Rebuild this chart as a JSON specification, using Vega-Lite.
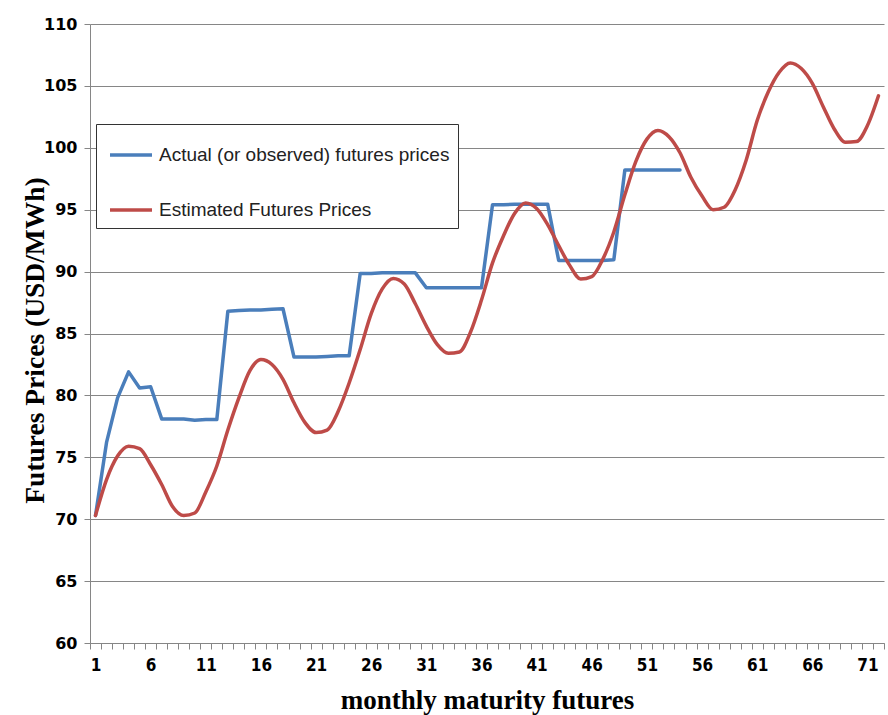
{
  "$schema": "https://vega.github.io/schema/vega-lite/v6.json",
  "width": 794,
  "height": 619,
  "autosize": "none",
  "padding": {"left": 90, "top": 24, "right": 4, "bottom": 72},
  "background": "white",
  "config": {"view": {"stroke": null}},
  "datasets": {
    "actual": [
      {"m":1,"v":70.3},{"m":2,"v":76.2},{"m":3,"v":79.8},{"m":4,"v":81.9},{"m":5,"v":80.6},{"m":6,"v":80.7},
      {"m":7,"v":78.1},{"m":8,"v":78.1},{"m":9,"v":78.1},{"m":10,"v":78.0},{"m":11,"v":78.05},{"m":12,"v":78.05},
      {"m":13,"v":86.8},{"m":14,"v":86.85},{"m":15,"v":86.9},{"m":16,"v":86.9},{"m":17,"v":86.95},{"m":18,"v":87.0},
      {"m":19,"v":83.1},{"m":20,"v":83.1},{"m":21,"v":83.1},{"m":22,"v":83.15},{"m":23,"v":83.2},{"m":24,"v":83.2},
      {"m":25,"v":89.85},{"m":26,"v":89.85},{"m":27,"v":89.9},{"m":28,"v":89.9},{"m":29,"v":89.9},{"m":30,"v":89.9},
      {"m":31,"v":88.7},{"m":32,"v":88.7},{"m":33,"v":88.7},{"m":34,"v":88.7},{"m":35,"v":88.7},{"m":36,"v":88.7},
      {"m":37,"v":95.4},{"m":38,"v":95.4},{"m":39,"v":95.45},{"m":40,"v":95.45},{"m":41,"v":95.45},{"m":42,"v":95.45},
      {"m":43,"v":90.9},{"m":44,"v":90.9},{"m":45,"v":90.9},{"m":46,"v":90.9},{"m":47,"v":90.9},{"m":48,"v":90.95},
      {"m":49,"v":98.2},{"m":50,"v":98.2},{"m":51,"v":98.2},{"m":52,"v":98.2},{"m":53,"v":98.2},{"m":54,"v":98.2}
    ],
    "estimated": [
      {"m":1,"v":70.3},{"m":2,"v":73.2},{"m":3,"v":75.1},{"m":4,"v":75.9},{"m":5,"v":75.7},{"m":6,"v":74.4},
      {"m":7,"v":72.8},{"m":8,"v":71.0},{"m":9,"v":70.3},{"m":10,"v":70.5},{"m":11,"v":72.2},{"m":12,"v":74.3},
      {"m":13,"v":77.2},{"m":14,"v":79.8},{"m":15,"v":82.0},{"m":16,"v":82.9},{"m":17,"v":82.5},{"m":18,"v":81.3},
      {"m":19,"v":79.4},{"m":20,"v":77.8},{"m":21,"v":77.0},{"m":22,"v":77.2},{"m":23,"v":78.7},{"m":24,"v":81.0},
      {"m":25,"v":83.7},{"m":26,"v":86.6},{"m":27,"v":88.6},{"m":28,"v":89.45},{"m":29,"v":89.0},{"m":30,"v":87.4},
      {"m":31,"v":85.6},{"m":32,"v":84.1},{"m":33,"v":83.4},{"m":34,"v":83.5},{"m":35,"v":85.1},{"m":36,"v":87.7},
      {"m":37,"v":90.7},{"m":38,"v":92.9},{"m":39,"v":94.7},{"m":40,"v":95.55},{"m":41,"v":95.1},{"m":42,"v":93.8},
      {"m":43,"v":92.1},{"m":44,"v":90.5},{"m":45,"v":89.4},{"m":46,"v":89.6},{"m":47,"v":91.0},{"m":48,"v":93.2},
      {"m":49,"v":96.2},{"m":50,"v":98.9},{"m":51,"v":100.7},{"m":52,"v":101.4},{"m":53,"v":100.9},{"m":54,"v":99.6},
      {"m":55,"v":97.6},{"m":56,"v":96.1},{"m":57,"v":95.0},{"m":58,"v":95.2},{"m":59,"v":96.6},{"m":60,"v":99.0},
      {"m":61,"v":102.2},{"m":62,"v":104.5},{"m":63,"v":106.1},{"m":64,"v":106.85},{"m":65,"v":106.4},{"m":66,"v":105.2},
      {"m":67,"v":103.3},{"m":68,"v":101.5},{"m":69,"v":100.45},{"m":70,"v":100.5},{"m":71,"v":101.8},{"m":72,"v":104.2}
    ]
  },
  "layer": [
    {
      "data": {"name": "actual"},
      "transform": [{"calculate": "'Actual (or observed) futures prices'", "as": "series"}],
      "mark": {"type": "line", "strokeWidth": 3.5, "strokeJoin": "round", "strokeCap": "round"},
      "encoding": {
        "x": {"field": "m", "type": "quantitative"},
        "y": {"field": "v", "type": "quantitative"},
        "color": {"field": "series", "type": "nominal"}
      }
    },
    {
      "data": {"name": "estimated"},
      "transform": [{"calculate": "'Estimated Futures Prices'", "as": "series"}],
      "mark": {"type": "line", "strokeWidth": 3.5, "strokeJoin": "round", "strokeCap": "round", "interpolate": "monotone"},
      "encoding": {
        "x": {"field": "m", "type": "quantitative"},
        "y": {"field": "v", "type": "quantitative"},
        "color": {"field": "series", "type": "nominal"}
      }
    }
  ],
  "encoding": {
    "x": {
      "field": "m",
      "type": "quantitative",
      "scale": {"domain": [0.5, 72.5], "nice": false, "zero": false},
      "axis": {
        "title": "monthly maturity futures",
        "titleFont": "Liberation Serif",
        "titleFontSize": 27,
        "titleFontWeight": "bold",
        "titleColor": "black",
        "titleX": 397,
        "titleY": 57,
        "titleBaseline": "middle",
        "titleAlign": "center",
        "grid": false,
        "domainColor": "#868686",
        "tickColor": "#868686",
        "tickSize": 6,
        "values": [0.5,1.5,2.5,3.5,4.5,5.5,6.5,7.5,8.5,9.5,10.5,11.5,12.5,13.5,14.5,15.5,16.5,17.5,18.5,19.5,20.5,21.5,22.5,23.5,24.5,25.5,26.5,27.5,28.5,29.5,30.5,31.5,32.5,33.5,34.5,35.5,36.5,37.5,38.5,39.5,40.5,41.5,42.5,43.5,44.5,45.5,46.5,47.5,48.5,49.5,50.5,51.5,52.5,53.5,54.5,55.5,56.5,57.5,58.5,59.5,60.5,61.5,62.5,63.5,64.5,65.5,66.5,67.5,68.5,69.5,70.5,71.5,72.5],
        "labelExpr": "((datum.value + 0.5) % 5 == 1 && datum.value < 72) ? format(datum.value + 0.5, 'd') : ''",
        "labelOffset": 5.5,
        "labelFlush": false,
        "labelOverlap": false,
        "labelBound": false,
        "labelFont": "DejaVu Sans Condensed, Liberation Sans Narrow, DejaVu Sans",
        "labelFontSize": 17,
        "labelFontWeight": "bold",
        "labelColor": "black",
        "labelPadding": 8
      }
    },
    "y": {
      "field": "v",
      "type": "quantitative",
      "scale": {"domain": [60, 110], "nice": false, "zero": false},
      "axis": {
        "title": "Futures Prices (USD/MWh)",
        "titleFont": "Liberation Serif",
        "titleFontSize": 27.5,
        "titleFontWeight": "bold",
        "titleColor": "black",
        "titleAngle": -90,
        "titleX": -55,
        "titleY": 316,
        "titleAlign": "center",
        "titleBaseline": "middle",
        "values": [60,65,70,75,80,85,90,95,100,105,110],
        "grid": true,
        "gridColor": "#868686",
        "gridWidth": 1,
        "domainColor": "#868686",
        "tickColor": "#868686",
        "tickSize": 6,
        "labelFont": "DejaVu Sans",
        "labelFontSize": 16,
        "labelFontWeight": "bold",
        "labelColor": "black",
        "labelPadding": 7
      }
    },
    "color": {
      "field": "series",
      "type": "nominal",
      "scale": {
        "domain": ["Actual (or observed) futures prices", "Estimated Futures Prices"],
        "range": ["#4A7EBB", "#BE4B48"]
      },
      "legend": {
        "title": null,
        "orient": "none",
        "legendX": 6,
        "legendY": 100,
        "symbolType": "stroke",
        "symbolSize": 1764,
        "symbolStrokeWidth": 3.5,
        "symbolOffset": 4,
        "rowPadding": 22,
        "padding": 8,
        "labelOffset": 5,
        "labelFont": "Liberation Sans",
        "labelFontSize": 19,
        "labelColor": "#222222",
        "labelLimit": 400,
        "strokeColor": "#333333",
        "fillColor": "white"
      }
    }
  }
}
